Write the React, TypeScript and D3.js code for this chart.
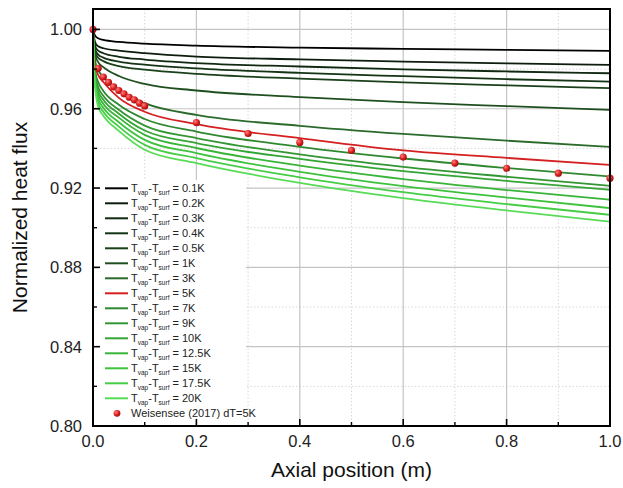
import React from "react";
import * as d3 from "d3";

const xs = [0, 0.002, 0.005, 0.01, 0.02, 0.05, 0.1, 0.2, 0.4, 0.6, 0.8, 1.0];

const dT01 = [1.0, 0.998, 0.9965, 0.9955, 0.9947, 0.9937, 0.9928, 0.9918, 0.9908, 0.9902, 0.9897, 0.9892];
const dT02 = [1.0, 0.996, 0.993, 0.9915, 0.9905, 0.9893, 0.988, 0.9863, 0.9849, 0.9838, 0.9829, 0.9821];
const dT03 = [1.0, 0.9945, 0.991, 0.9893, 0.988, 0.9862, 0.9848, 0.983, 0.9813, 0.9799, 0.9788, 0.9779];
const dT04 = [1.0, 0.9935, 0.9893, 0.9873, 0.9858, 0.9838, 0.9822, 0.9804, 0.9781, 0.9764, 0.9749, 0.9737];
const dT05 = [1.0, 0.9925, 0.988, 0.9857, 0.984, 0.9815, 0.9797, 0.9776, 0.9752, 0.9733, 0.9718, 0.9704];
const dT1 = [1.0, 0.992, 0.9865, 0.9835, 0.981, 0.9765, 0.9725, 0.9692, 0.9659, 0.9633, 0.9613, 0.9594];
const dT3 = [1.0, 0.989, 0.983, 0.9795, 0.976, 0.9695, 0.9628, 0.9569, 0.9514, 0.9473, 0.9439, 0.9408];
const dT5 = [1.0, 0.987, 0.981, 0.977, 0.9735, 0.9655, 0.9585, 0.9522, 0.9452, 0.939, 0.9352, 0.9317];
const dT7 = [1.0, 0.985, 0.978, 0.9735, 0.969, 0.962, 0.9548, 0.9485, 0.9408, 0.9349, 0.9301, 0.9258];
const dT9 = [1.0, 0.984, 0.976, 0.971, 0.9665, 0.9595, 0.9515, 0.9452, 0.937, 0.9307, 0.9257, 0.9211];
const dT10 = [1.0, 0.983, 0.9745, 0.969, 0.9645, 0.9575, 0.949, 0.9427, 0.9347, 0.9285, 0.9236, 0.9191];
const dT125 = [1.0, 0.982, 0.973, 0.967, 0.9625, 0.9555, 0.9468, 0.9402, 0.9313, 0.9245, 0.919, 0.9141];
const dT15 = [1.0, 0.981, 0.9715, 0.965, 0.9605, 0.9532, 0.9443, 0.9376, 0.9282, 0.921, 0.9152, 0.9099];
const dT175 = [1.0, 0.98, 0.97, 0.963, 0.9585, 0.951, 0.9418, 0.9351, 0.9254, 0.9179, 0.9119, 0.9065];
const dT20 = [1.0, 0.979, 0.9685, 0.961, 0.9565, 0.9488, 0.9393, 0.9326, 0.9226, 0.9149, 0.9087, 0.9031];

const dTlabels = ["0.1K", "0.2K", "0.3K", "0.4K", "0.5K", "1K", "3K", "5K", "7K", "9K", "10K", "12.5K", "15K", "17.5K", "20K"];
const series = [dT01, dT02, dT03, dT04, dT05, dT1, dT3, dT5, dT7, dT9, dT10, dT125, dT15, dT175, dT20];
const colors = [
  "#000000", "#0e1c0e", "#112811", "#153315", "#1a401a", "#1f4f1f", "#2b6a2b",
  "#d42020", "#2f882f", "#339633", "#35a535", "#38b438", "#3ec23e", "#46cd46", "#58dc58",
];

// Weisensee (2017) dT=5K
const expX = [0, 0.01, 0.02, 0.03, 0.04, 0.05, 0.06, 0.07, 0.08, 0.09, 0.1, 0.2, 0.3, 0.4, 0.5, 0.6, 0.7, 0.8, 0.9, 1.0];
const expY = [1.0, 0.9804, 0.976, 0.9733, 0.971, 0.9692, 0.9675, 0.9658, 0.9645, 0.9628, 0.9614, 0.953, 0.9475, 0.943, 0.939, 0.9356, 0.9326, 0.93, 0.9275, 0.925];

const yTicks = [0.8, 0.84, 0.88, 0.92, 0.96, 1.0];
const yMinor = [0.82, 0.86, 0.9, 0.94, 0.98];
const xTicks = [0, 0.2, 0.4, 0.6, 0.8, 1.0];
const xMinor = [0.1, 0.3, 0.5, 0.7, 0.9];

const W = 623, H = 488;
const m = { left: 93, right: 13, top: 9, bottom: 62 };
const font = "Arial, 'Liberation Sans', sans-serif";

export default function App() {
  const x = d3.scaleLinear().domain([0, 1]).range([m.left, W - m.right]);
  const y = d3.scaleLinear().domain([0.8, 1.0103]).range([H - m.bottom, m.top]);
  const line = d3.line<number>()
    .x((_, i) => x(xs[i]))
    .y((v) => y(v))
    .curve(d3.curveMonotoneX);

  const x0 = x(0), x1 = x(1), yb = y(0.8), yt = m.top;
  const legTop = 188.3, legStep = 15;

  return (
    <div style={{ position: "absolute", left: 0, top: 0 }}>
      <svg width={W} height={H} viewBox={`0 0 ${W} ${H}`} style={{ display: "block", fontFamily: font }}>
        <defs>
          <clipPath id="plot">
            <rect x={x0} y={yt} width={x1 - x0} height={yb - yt} />
          </clipPath>
          <radialGradient id="dot" cx="35%" cy="35%" r="65%">
            <stop offset="0%" stopColor="#ff8080" />
            <stop offset="60%" stopColor="#dd2020" />
            <stop offset="100%" stopColor="#a01010" />
          </radialGradient>
        </defs>
        <rect width={W} height={H} fill="#fff" />

        {/* grid */}
        {yMinor.map((t) => (
          <line key={"ym" + t} x1={x0} x2={x1} y1={y(t)} y2={y(t)} stroke="#d8d8d8" strokeDasharray="1.5,2" />
        ))}
        {xMinor.map((t) => (
          <line key={"xm" + t} x1={x(t)} x2={x(t)} y1={yt} y2={yb} stroke="#d8d8d8" strokeDasharray="1.5,2" />
        ))}
        {yTicks.slice(1).map((t) => (
          <line key={"yg" + t} x1={x0} x2={x1} y1={y(t)} y2={y(t)} stroke="#c4c4c4" strokeWidth={1.2} />
        ))}
        {xTicks.slice(1, -1).map((t) => (
          <line key={"xg" + t} x1={x(t)} x2={x(t)} y1={yt} y2={yb} stroke="#c4c4c4" strokeWidth={1.2} />
        ))}

        {/* curves */}
        <g clipPath="url(#plot)">
          {series.map((s, i) => (
            <path key={dTlabels[i]} d={line(s) ?? ""} fill="none" stroke={colors[i]} strokeWidth={1.8} />
          ))}
        </g>
        {expX.map((v, i) => (
          <circle key={"e" + i} cx={x(v)} cy={y(expY[i])} r={3.6} fill="url(#dot)" />
        ))}

        {/* legend */}
        <rect x={x0 + 1} y={180} width={152} height={242} fill="#fff" />
        {dTlabels.map((lab, i) => {
          const ly = legTop + i * legStep;
          return (
            <g key={"l" + lab}>
              <line x1={105} x2={128} y1={ly} y2={ly} stroke={colors[i]} strokeWidth={2} />
              <text x={131} y={ly + 4} fontSize={11} fill="#222">
                T<tspan fontSize={6.5} dy={3}>vap</tspan>
                <tspan dy={-3}>-T</tspan>
                <tspan fontSize={6.5} dy={3}>surf</tspan>
                <tspan dy={-3}>{" = " + lab}</tspan>
              </text>
            </g>
          );
        })}
        <circle cx={117} cy={legTop + 15 * legStep} r={3.4} fill="url(#dot)" />
        <text x={131} y={legTop + 15 * legStep + 4} fontSize={11} fill="#222">Weisensee (2017) dT=5K</text>

        {/* ticks */}
        {yTicks.map((t) => (
          <line key={"yt" + t} x1={x0} x2={x0 + 7} y1={y(t)} y2={y(t)} stroke="#000" strokeWidth={1.6} />
        ))}
        {yMinor.map((t) => (
          <line key={"ytm" + t} x1={x0} x2={x0 + 4} y1={y(t)} y2={y(t)} stroke="#000" strokeWidth={1.4} />
        ))}
        {xTicks.map((t) => (
          <line key={"xt" + t} x1={x(t)} x2={x(t)} y1={yb} y2={yb - 7} stroke="#000" strokeWidth={1.6} />
        ))}
        {xMinor.map((t) => (
          <line key={"xtm" + t} x1={x(t)} x2={x(t)} y1={yb} y2={yb - 4} stroke="#000" strokeWidth={1.4} />
        ))}

        <rect x={x0} y={yt} width={x1 - x0} height={yb - yt} fill="none" stroke="#000" strokeWidth={2} />

        {/* tick labels */}
        {yTicks.map((t) => (
          <text key={"yl" + t} x={x0 - 11} y={y(t) + 6} fontSize={16.5} textAnchor="end" fill="#222">
            {d3.format(".2f")(t)}
          </text>
        ))}
        {xTicks.map((t) => (
          <text key={"xl" + t} x={x(t)} y={yb + 21} fontSize={16.5} textAnchor="middle" fill="#222">
            {d3.format(".1f")(t)}
          </text>
        ))}

        {/* axis titles */}
        <text x={(x0 + x1) / 2} y={477} fontSize={21} textAnchor="middle" fill="#111">Axial position (m)</text>
        <text transform={`translate(27,${(yt + yb) / 2}) rotate(-90)`} fontSize={21} textAnchor="middle" fill="#111">
          Normalized heat flux
        </text>
      </svg>
    </div>
  );
}
